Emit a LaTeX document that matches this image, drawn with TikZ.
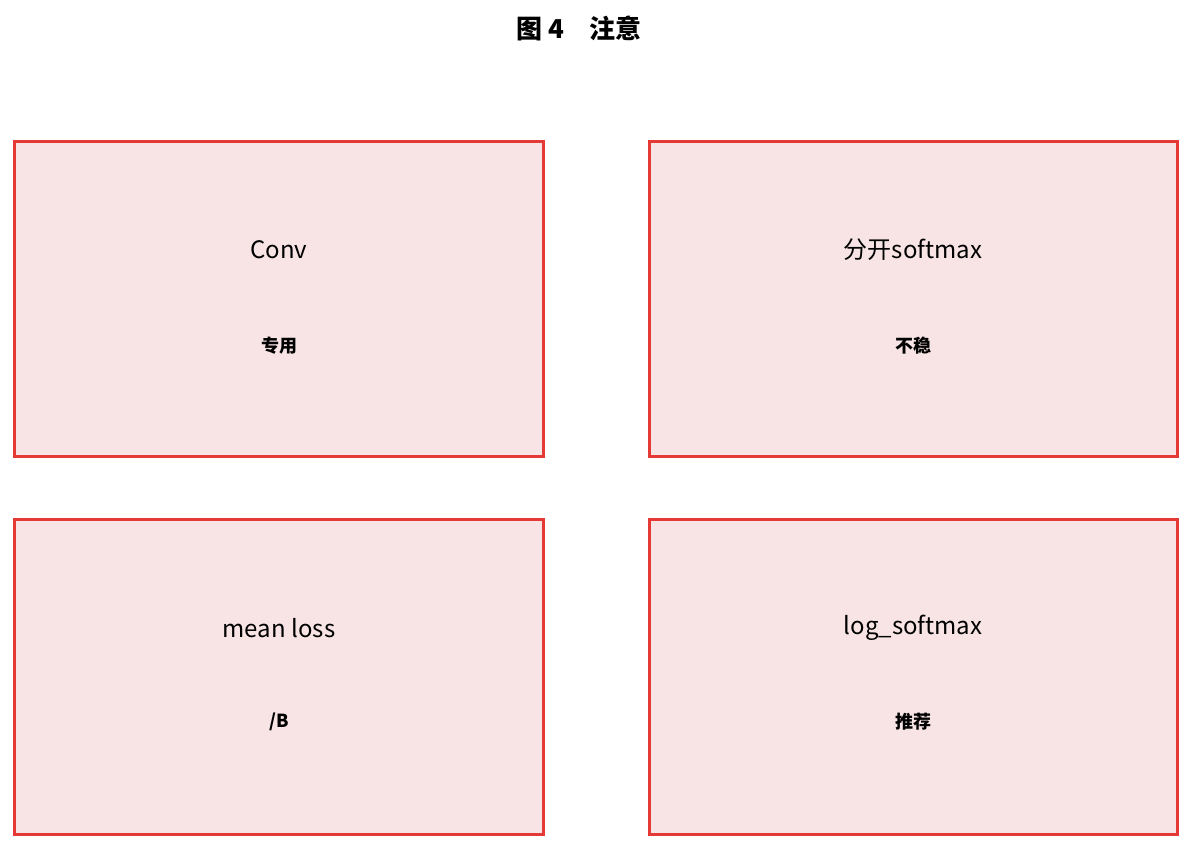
\documentclass[tikz,border=0pt]{standalone}
\usepackage{fontspec}
\setmainfont{Noto Sans CJK SC}
\begin{document}
\begin{tikzpicture}[x=1pt,y=-1pt,
  box/.style={draw=boxred,fill=boxfill,line width=3pt},
  ttl/.style={font=\fontsize{24}{28}\selectfont},
  sub/.style={font=\fontsize{18}{20}\selectfont\bfseries}]
\definecolor{boxred}{HTML}{E53935}
\definecolor{boxfill}{HTML}{F8E4E4}
\useasboundingbox (0,0) rectangle (1192,849);
\node[font=\fontsize{26}{30}\selectfont\bfseries] (title) at (579,28) {图 4\quad 注意};
\draw[box] (14,141) rectangle (543,456);
\draw[box] (649,141) rectangle (1177,456);
\draw[box] (14,519) rectangle (543,834);
\draw[box] (649,519) rectangle (1177,834);
\node[ttl] (t1) at (279,250) {Conv};
\node[sub] (s1) at (279,346) {专用};
\node[ttl] (t2) at (913,250) {分开softmax};
\node[sub] (s2) at (913,346) {不稳};
\node[ttl] (t3) at (279,628) {mean loss};
\node[sub] (s3) at (279,722) {/B};
\node[ttl] (t4) at (913,628) {log\_softmax};
\node[sub] (s4) at (913,722) {推荐};
\end{tikzpicture}
\end{document}
